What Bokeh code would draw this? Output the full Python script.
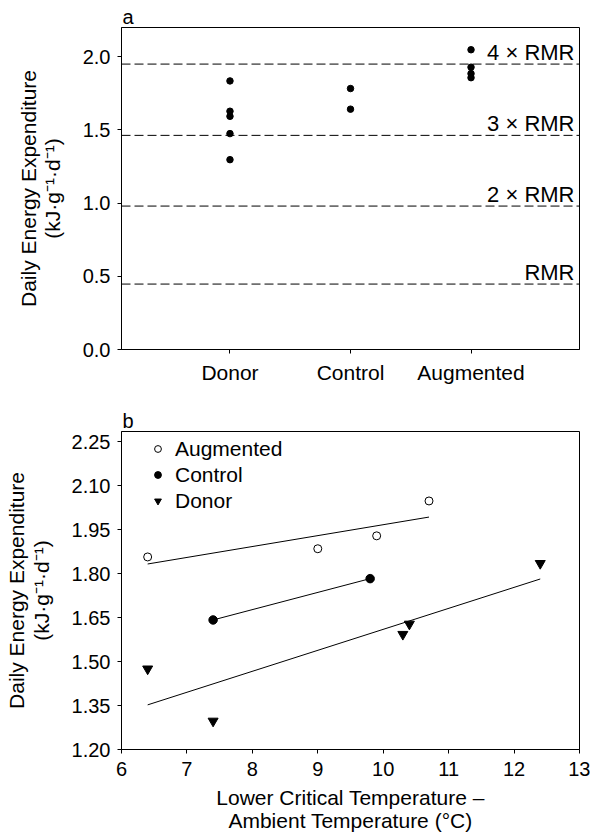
import numpy as np
from bokeh.plotting import figure
from bokeh.models import (Span, Label, Legend, LegendItem, FixedTicker, Range1d,
                          PrintfTickFormatter)
from bokeh.layouts import column
from bokeh.embed import file_html
from bokeh.resources import INLINE

# ---------------- data ----------------
groups = ["Donor", "Control", "Augmented"]
donor_x = [6.4, 7.4, 10.3, 10.4, 12.4]
donor_y = [1.475, 1.297, 1.593, 1.628, 1.835]
control_x = [7.4, 9.8]
control_y = [1.642, 1.783]
aug_x = [6.4, 9.0, 9.9, 10.7]
aug_y = [1.857, 1.885, 1.929, 2.048]
rmr_levels = [0.447, 0.980, 1.463, 1.950]
rmr_labels = ["RMR", "2 × RMR", "3 × RMR", "4 × RMR"]
a_yticks = [0.0, 0.5, 1.0, 1.5, 2.0]
b_yticks = [1.20, 1.35, 1.50, 1.65, 1.80, 1.95, 2.10, 2.25]
b_xticks = [6, 7, 8, 9, 10, 11, 12, 13]

FONT = "Liberation Sans"
YTITLE = "Daily Energy Expenditure\n(kJ·g⁻¹·d⁻¹)"


def style_axis(ax, tick_size="20px"):
    ax.axis_line_color = "black"
    ax.axis_line_width = 1
    ax.major_tick_line_color = "black"
    ax.major_tick_out = 4
    ax.major_tick_in = 0
    ax.minor_tick_line_color = None
    ax.major_label_text_font = FONT
    ax.major_label_text_font_size = tick_size
    ax.major_label_text_color = "black"
    ax.axis_label_text_font = FONT
    ax.axis_label_text_font_size = "21px"
    ax.axis_label_text_font_style = "normal"
    ax.axis_label_text_color = "black"


def style_fig(p, letter):
    p.grid.visible = False
    p.outline_line_color = "black"
    p.outline_line_width = 1
    p.background_fill_color = "white"
    p.border_fill_color = "white"
    p.title.text = letter
    p.title.align = "left"
    p.title.text_font = FONT
    p.title.text_font_size = "20px"
    p.title.text_font_style = "normal"
    p.title.text_color = "black"
    p.title.standoff = 0
    p.title.offset = 1


# ---------------- panel a ----------------
p1 = figure(width=590, height=407, x_range=Range1d(0.1, 3.9), y_range=Range1d(0, 2.2),
            output_backend="svg", toolbar_location=None,
            min_border_left=121, min_border_right=9, min_border_top=27, min_border_bottom=58)
style_fig(p1, "a")
style_axis(p1.xaxis[0], "21px")
style_axis(p1.yaxis[0], "20px")
p1.xaxis.ticker = FixedTicker(ticks=list(range(1, len(groups) + 1)))
p1.xaxis.major_label_overrides = {i + 1: g for i, g in enumerate(groups)}
p1.xaxis.major_label_standoff = 7
p1.yaxis.ticker = FixedTicker(ticks=a_yticks)
p1.yaxis.formatter = PrintfTickFormatter(format="%.1f")
p1.yaxis.major_label_standoff = 7
p1.yaxis.axis_label = YTITLE
p1.yaxis.axis_label_standoff = 16
p1.yaxis.axis_label_text_line_height = 1.05

for lev, lab in zip(rmr_levels, rmr_labels):
    p1.add_layout(Span(location=lev, dimension="width", line_color="black",
                       line_width=1, line_dash="9 4"))
    p1.add_layout(Label(x=p1.x_range.end, y=lev, text=lab, text_align="right",
                        text_baseline="middle", x_offset=-5, y_offset=12,
                        text_font=FONT, text_font_size="22px", text_color="black"))

for i, (g, ys) in enumerate(zip(groups, [donor_y, control_y, aug_y])):
    p1.scatter([i + 1] * len(ys), ys, marker="circle", size=6.5,
               fill_color="black", line_color="black")

# ---------------- panel b ----------------
p2 = figure(width=590, height=427, x_range=Range1d(6, 13), y_range=Range1d(1.2, 2.285),
            output_backend="svg", toolbar_location=None,
            min_border_left=121, min_border_right=11, min_border_top=22, min_border_bottom=83)
style_fig(p2, "b")
style_axis(p2.xaxis[0], "20px")
style_axis(p2.yaxis[0], "20px")
p2.xaxis.ticker = FixedTicker(ticks=b_xticks)
p2.xaxis.major_label_standoff = 8
p2.xaxis.axis_label = "Lower Critical Temperature –\nAmbient Temperature (°C)"
p2.xaxis.axis_label_standoff = 7
p2.xaxis.axis_label_text_line_height = 1.0
p2.yaxis.ticker = FixedTicker(ticks=b_yticks)
p2.yaxis.formatter = PrintfTickFormatter(format="%.2f")
p2.yaxis.major_label_standoff = 7
p2.yaxis.axis_label = YTITLE
p2.yaxis.axis_label_standoff = 16
p2.yaxis.axis_label_text_line_height = 1.05

for xs, ys in [(aug_x, aug_y), (control_x, control_y), (donor_x, donor_y)]:
    k, b = np.polyfit(xs, ys, 1)
    xe = [min(xs), max(xs)]
    p2.line(xe, [k * x + b for x in xe], line_color="black", line_width=1)

r_aug = p2.scatter(aug_x, aug_y, marker="circle", size=8, fill_color="white",
                   line_color="black", line_width=1)
r_con = p2.scatter(control_x, control_y, marker="circle", size=8.5, fill_color="black",
                   line_color="black")
r_don = p2.scatter(donor_x, donor_y, marker="inverted_triangle", size=10,
                   fill_color="black", line_color="black")

legend = Legend(items=[LegendItem(label="Augmented", renderers=[r_aug]),
                       LegendItem(label="Control", renderers=[r_con]),
                       LegendItem(label="Donor", renderers=[r_don])],
                location=(28, 236), margin=0, padding=0, spacing=1,
                glyph_width=17, glyph_height=25, label_height=25, label_standoff=9,
                label_text_font=FONT, label_text_font_size="21px",
                label_text_color="black", background_fill_alpha=0,
                border_line_color=None)
p2.add_layout(legend)

layout = column(p1, p2, spacing=0)
open("out.html", "w").write(file_html(layout, INLINE))
